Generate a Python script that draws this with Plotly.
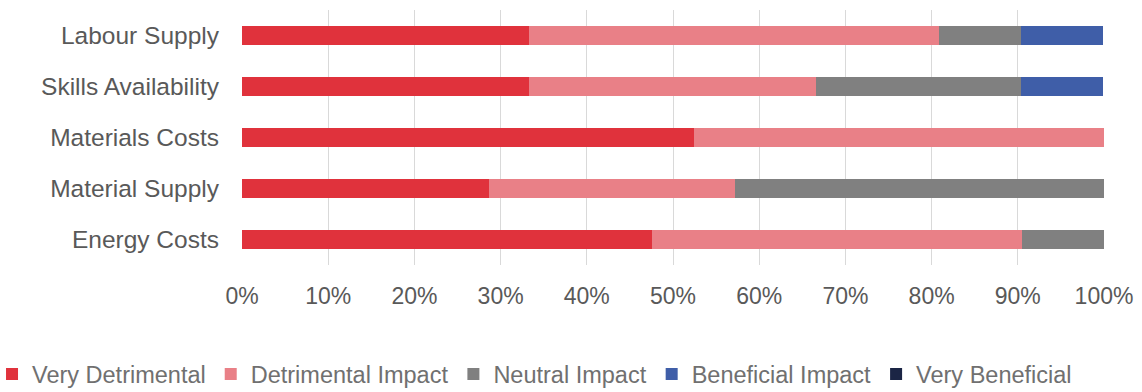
import plotly.graph_objects as go

categories = ["Labour Supply", "Skills Availability", "Materials Costs", "Material Supply", "Energy Costs"]
series_names = ["Very Detrimental", "Detrimental Impact", "Neutral Impact", "Beneficial Impact", "Very Beneficial"]
very_detrimental = [33.3, 33.3, 52.4, 28.6, 47.6]
detrimental = [47.6, 33.3, 47.6, 28.6, 42.9]
neutral = [9.5, 23.8, 0.0, 42.9, 9.5]
beneficial = [9.5, 9.5, 0.0, 0.0, 0.0]
very_beneficial = [0.0, 0.0, 0.0, 0.0, 0.0]
tick_vals = [0, 10, 20, 30, 40, 50, 60, 70, 80, 90, 100]
tick_text = ["0%", "10%", "20%", "30%", "40%", "50%", "60%", "70%", "80%", "90%", "100%"]

colors = ["#E0323C", "#E98087", "#808080", "#3F5EA8", "#1B2545"]
values = [very_detrimental, detrimental, neutral, beneficial, very_beneficial]

fig = go.Figure()
for name, vals, col in zip(series_names, values, colors):
    fig.add_trace(go.Bar(
        y=categories, x=vals, name=name, orientation="h",
        marker=dict(color=col, line=dict(width=0)),
        width=0.38,
    ))

fig.update_layout(
    barmode="stack",
    width=1142, height=392,
    margin=dict(l=242, r=38, t=10, b=127, autoexpand=False),
    paper_bgcolor="white", plot_bgcolor="white",
    font=dict(family="Liberation Sans, Arial, sans-serif", color="#595959"),
    xaxis=dict(
        range=[0, 100], tickvals=tick_vals, ticktext=tick_text,
        showgrid=True, gridcolor="#D9D9D9", gridwidth=1,
        zeroline=False, showline=False, ticks="",
        tickfont=dict(size=23, color="#595959"),
        ticklabelstandoff=15,
    ),
    yaxis=dict(
        categoryorder="array", categoryarray=categories[::-1],
        showgrid=False, zeroline=False, showline=False, ticks="",
        tickfont=dict(size=24.5, color="#595959"),
        ticklabelstandoff=22,
    ),
    legend=dict(
        orientation="h", x=-0.29, xanchor="left", y=-0.515, yanchor="bottom",
        font=dict(size=23.5, color="#707070"),
        traceorder="normal",
    ),
    showlegend=True,
)

fig.write_html("out.html")
